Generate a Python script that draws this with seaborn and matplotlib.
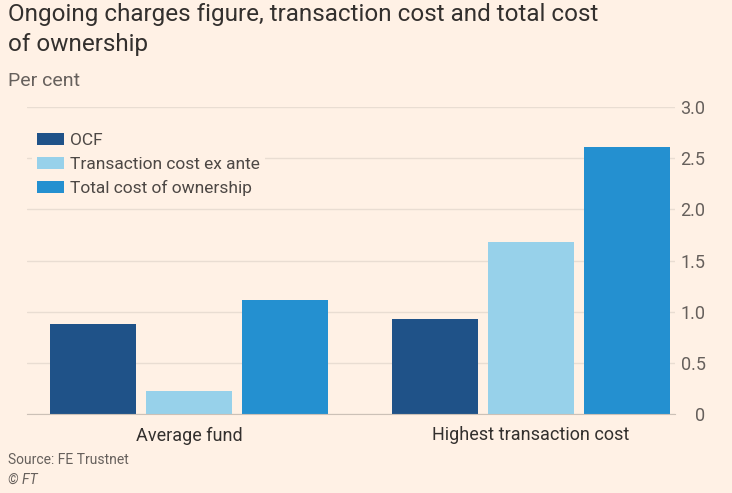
import pandas as pd
import matplotlib
matplotlib.use('Agg')
import matplotlib.pyplot as plt
import seaborn as sns

categories = ['Average fund', 'Highest transaction cost']
series = ['OCF', 'Transaction cost ex ante', 'Total cost of ownership']
ocf = [0.88, 0.93]
transaction_cost = [0.22, 1.68]
total_cost = [1.11, 2.61]
y_ticks = [0, 0.5, 1.0, 1.5, 2.0, 2.5, 3.0]
y_tick_labels = ['0', '0.5', '1.0', '1.5', '2.0', '2.5', '3.0']

colors = ['#1f5288', '#97d1ea', '#2490d0']
bg = '#fff1e5'

df = pd.DataFrame({
    'category': categories * 3,
    'series': [s for s in series for _ in categories],
    'value': ocf + transaction_cost + total_cost,
})

sns.set_style('white')
plt.rcParams['font.family'] = ['Roboto', 'DejaVu Sans']

fig = plt.figure(figsize=(7.32, 4.93), dpi=100, facecolor=bg)
ax = fig.add_axes([27 / 732, 79 / 493, 648 / 732, 307 / 493])
ax.set_facecolor(bg)

sns.barplot(data=df, x='category', y='value', hue='series', hue_order=series,
            palette=colors, width=0.84, gap=0.1, saturation=1, ax=ax,
            edgecolor='none', legend=True)

ax.set_xlim(-0.474, 1.421)
ax.set_ylim(0, 3.0)
ax.set_yticks(y_ticks)
ax.set_yticklabels(y_tick_labels)
ax.yaxis.tick_right()
ax.tick_params(axis='y', length=0, pad=22, labelsize=13, labelcolor='#66605c')
for lbl in ax.get_yticklabels():
    lbl.set_horizontalalignment('right')
ax.tick_params(axis='x', length=5, color='#ccc1b7', labelsize=13,
               labelcolor='#33302e', pad=4)
ax.set_xlabel('')
ax.set_ylabel('')
ax.grid(axis='y', color='#e9ddd2', linewidth=1)
ax.set_axisbelow(True)
for s in ['top', 'right', 'left']:
    ax.spines[s].set_visible(False)
ax.spines['bottom'].set_color('#ccc1b7')
ax.spines['bottom'].set_zorder(3)

# legend sits on a background-coloured box so it hides the gridlines behind it
handles, labels = ax.get_legend_handles_labels()
leg = ax.legend(handles, labels, loc='upper left', bbox_to_anchor=(0.0, 0.95),
                frameon=True, facecolor=bg, edgecolor='none', framealpha=1,
                fancybox=False, fontsize=12.5, labelcolor='#4d4845',
                handlelength=1.55, handleheight=0.7, handletextpad=0.3,
                labelspacing=0.5, borderaxespad=0.3, borderpad=0.3)

fig.text(8 / 732, 1 - 3 / 493, 'Ongoing charges figure, transaction cost and total cost\nof ownership',
         ha='left', va='top', fontsize=17.5, color='#33302e', linespacing=1.4)
fig.text(8 / 732, 1 - 72 / 493, 'Per cent', ha='left', va='top', fontsize=14, color='#66605c')
fig.text(8 / 732, 1 - 453 / 493, 'Source: FE Trustnet', ha='left', va='top',
         fontsize=10, color='#66605c')
fig.text(8 / 732, 1 - 473 / 493, '© FT', ha='left', va='top', fontsize=10,
         color='#66605c', style='italic')

fig.savefig('out.png', dpi=100, facecolor=bg)
